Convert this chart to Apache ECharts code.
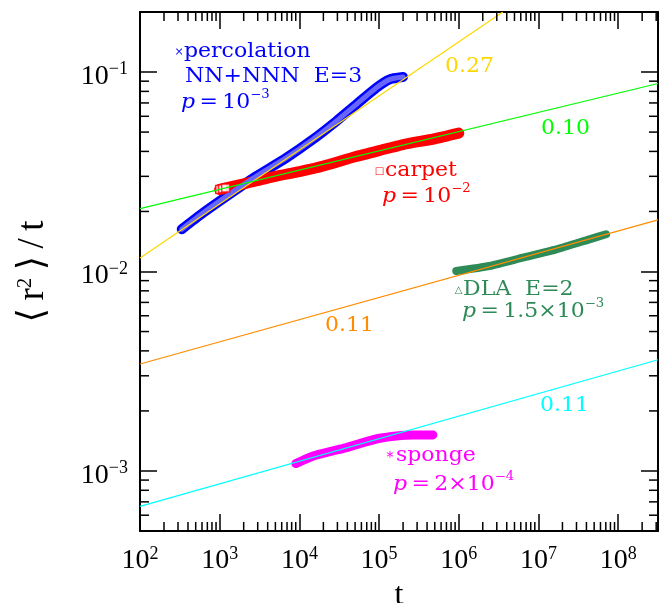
<!DOCTYPE html>
<html>
<head>
<meta charset="utf-8">
<script src="https://cdn.jsdelivr.net/npm/echarts@6/dist/echarts.min.js"></script>
<style>
html,body{margin:0;padding:0;background:#fff}
#main{width:667px;height:603px}
</style>
</head>
<body>
<div id="main"></div>
<script>
// axis ranges
var tMin = 100, tMax = 3.162e8;
var yMin = 5e-4, yMax = 0.2;

// percolation, NN+NNN E=3, p=1e-3
var percT = [334, 621, 1630, 2900, 6890, 14850, 29200, 52000, 92500, 136000, 199500];
var percY = [0.0163, 0.0197, 0.0258, 0.0301, 0.0372, 0.0460, 0.0568, 0.0689, 0.0834, 0.0919, 0.0944];

// carpet, p=1e-2
var carpT = [1000, 1500, 2500, 5000, 1e4, 2e4, 5e4, 1e5, 2e5, 5e5, 1e6];
var carpY = [0.0258, 0.0268, 0.0281, 0.0300, 0.0317, 0.0338, 0.0376, 0.0404, 0.0433, 0.0463, 0.0494];
var carpStartT = [1000, 1090, 1190];
var carpStartY = [0.0258, 0.0260, 0.0262];

// DLA E=2, p=1.5e-3
var dlaT = [9.3e5, 2.43e6, 6.35e6, 1.67e7, 4.36e7, 7.05e7];
var dlaY = [0.01006, 0.01066, 0.01173, 0.01291, 0.01450, 0.01537];

// sponge, p=2e-4
var spgT = [9020, 14860, 24050, 38900, 62800, 101800, 165000, 266000, 473000];
var spgY = [0.001089, 0.001189, 0.00125, 0.001309, 0.001387, 0.001459, 0.001498, 0.001516, 0.001516];

var fitGold = [[100, 0.0117], [3.57e6, 0.2]];
var fitGreen = [[100, 0.02065], [3.162e8, 0.0876]];
var fitOrange = [[100, 0.003436], [3.162e8, 0.01815]];
var fitCyan = [[100, 0.000664], [3.162e8, 0.00361]];

// minor tick multipliers
var minorMul = [2, 3, 4, 5, 6, 7, 8, 9];
var xDecades = [2, 3, 4, 5, 6, 7, 8];
var yDecades = [-4, -3, -2, -1];

function zip(a, b) {
  return a.map(function (v, i) { return [v, b[i]]; });
}

var xMinor = [], yMinor = [];
xDecades.forEach(function (d) {
  minorMul.forEach(function (m) {
    var v = m * Math.pow(10, d);
    if (v < tMax) xMinor.push([v, yMin]);
  });
});
yDecades.forEach(function (d) {
  minorMul.forEach(function (m) {
    var v = m * Math.pow(10, d);
    if (v >= yMin && v < yMax * 0.999) yMinor.push([tMin, v]);
  });
});

var SERIF = '"Liberation Serif", "DejaVu Serif", serif';
var TXT = '"DejaVu Serif", serif';

function powLabel(v) {
  var e = Math.round(Math.log10(v));
  if (Math.abs(Math.log10(v) - e) > 1e-6) return '';
  return '{b|10}{s|' + String(e).replace('-', '\u2212') + '}';
}

var tickRich = {
  b: {fontSize: 28, fontFamily: SERIF, color: '#000', lineHeight: 30, verticalAlign: 'bottom'},
  s: {fontSize: 18, fontFamily: SERIF, color: '#000', lineHeight: 20, verticalAlign: 'top'}
};

function axisBase(pos, isX, showLabel) {
  return {
    type: 'log',
    logBase: 10,
    position: pos,
    min: isX ? tMin : yMin,
    max: isX ? tMax : yMax,
    axisLine: {show: true, lineStyle: {color: '#000', width: 2}},
    axisTick: {show: true, inside: true, length: 17, lineStyle: {color: '#000', width: 1.5}},
    minorTick: {show: false},
    splitLine: {show: false},
    axisLabel: {
      show: showLabel,
      margin: isX ? 14 : 12,
      formatter: powLabel,
      rich: tickRich,
      padding: isX ? 0 : [7, 0, 0, 0],
      showMinLabel: true,
      showMaxLabel: true
    }
  };
}

var xBottom = axisBase('bottom', true, true);
xBottom.name = 't';
xBottom.nameLocation = 'middle';
xBottom.nameGap = 40;
xBottom.nameTextStyle = {fontSize: 32, fontFamily: SERIF, color: '#000'};
var xTop = axisBase('top', true, false);

var yLeft = axisBase('left', false, true);
yLeft.name = '\u27e8\u2009r{s|2}\u2009\u27e9\u2009/\u2009t';
yLeft.nameLocation = 'middle';
yLeft.nameGap = 88;
yLeft.nameRotate = 90;
yLeft.nameTextStyle = {
  fontSize: 37, fontFamily: SERIF, color: '#000', padding: [0, 0, 0, 0],
  rich: {s: {fontSize: 21, fontFamily: SERIF, color: '#000', verticalAlign: 'top', lineHeight: 24}}
};
var yRight = axisBase('right', false, false);

function band(name, data, color, width, z) {
  return {
    name: name, type: 'line', data: data, xAxisIndex: 0, yAxisIndex: 0,
    showSymbol: false, symbol: 'none', smooth: 0.2, z: z,
    lineStyle: {color: color, width: width, cap: 'round', join: 'round'}
  };
}
function fit(data, color) {
  return {
    type: 'line', data: data, xAxisIndex: 0, yAxisIndex: 0, symbol: 'none',
    clip: true, z: 10, lineStyle: {color: color, width: 1.2}
  };
}

function tickSeries(data, isX) {
  return {
    type: 'custom', xAxisIndex: 0, yAxisIndex: 0, silent: true, z: 20,
    data: data,
    renderItem: function (params, api) {
      var cs = params.coordSys;
      var p = api.coord([api.value(0), api.value(1)]);
      var st = {stroke: '#000', lineWidth: 1.5};
      if (isX) {
        var b = cs.y + cs.height, t = cs.y;
        return {type: 'group', children: [
          {type: 'line', shape: {x1: p[0], y1: b, x2: p[0], y2: b - 9}, style: st},
          {type: 'line', shape: {x1: p[0], y1: t, x2: p[0], y2: t + 9}, style: st}
        ]};
      }
      var l = cs.x, r = cs.x + cs.width;
      return {type: 'group', children: [
        {type: 'line', shape: {x1: l, y1: p[1], x2: l + 9, y2: p[1]}, style: st},
        {type: 'line', shape: {x1: r, y1: p[1], x2: r - 9, y2: p[1]}, style: st}
      ]};
    }
  };
}

// annotation text helpers
function note(x, y, color, text) {
  return {
    type: 'text', x: x, y: y, scaleX: 1.1, z: 30,
    style: {
      text: text, fill: color, font: '20px ' + TXT,
      textAlign: 'left', verticalAlign: 'middle',
      rich: {
        n: {fontSize: 20, fontFamily: TXT, fill: color, lineHeight: 24, verticalAlign: 'bottom'},
        i: {fontSize: 20, fontFamily: TXT, fontStyle: 'italic', fill: color, lineHeight: 24, verticalAlign: 'bottom'},
        s: {fontSize: 12, fontFamily: TXT, fill: color, lineHeight: 15, verticalAlign: 'top'}
      }
    }
  };
}
function mark(x, y, color, ch, size) {
  return {
    type: 'text', x: x, y: y, z: 30,
    style: {text: ch, fill: color, font: size + 'px ' + TXT, textAlign: 'center', verticalAlign: 'middle'}
  };
}

var chart = echarts.init(document.getElementById('main'), null, {renderer: 'canvas'});
chart.setOption({
  animation: false,
  backgroundColor: '#fff',
  grid: {left: 140, top: 12, right: 9, bottom: 72, containLabel: false, outerBoundsMode: 'none'},
  xAxis: [xBottom, xTop],
  yAxis: [yLeft, yRight],
  series: [
    band('percolation', zip(percT, percY), '#0000ff', 10, 2),
    band('percolation-in', zip(percT, percY), '#6767ff', 5, 3),
    band('carpet', zip(carpT, carpY), '#ff0000', 11, 2),
    {
      type: 'scatter', data: zip(carpStartT, carpStartY), symbol: 'rect', symbolSize: 8, z: 3,
      itemStyle: {color: '#fff', borderColor: '#ff0000', borderWidth: 1.5}
    },
    band('DLA', zip(dlaT, dlaY), '#2e8b57', 8, 2),
    band('sponge', zip(spgT, spgY), '#ff00ff', 9, 2),
    fit(fitGold, '#ffd700'),
    fit(fitGreen, '#00ff00'),
    fit(fitOrange, '#ff8c00'),
    fit(fitCyan, '#00ffff'),
    tickSeries(xMinor, true),
    tickSeries(yMinor, false)
  ],
  graphic: [
    mark(179, 52, '#0000ff', '\u00d7', 11),
    note(184, 50, '#0000ff', '{n|percolation}'),
    note(185, 75, '#0000ff', '{n|NN+NNN  E=3}'),
    note(181, 101, '#0000ff', '{i|p}{n|\u2009=\u200910}{s|\u22123}'),
    mark(379.5, 171, '#ff0000', '\u25a1', 10),
    note(385, 169, '#ff0000', '{n|carpet}'),
    note(382, 195, '#ff0000', '{i|p}{n|\u2009=\u200910}{s|\u22122}'),
    mark(458.5, 290, '#2e8b57', '\u25b3', 10),
    note(463, 288, '#2e8b57', '{n|DLA  E=2}'),
    note(462, 310, '#2e8b57', '{i|p}{n|\u2009=\u20091.5\u00d710}{s|\u22123}'),
    mark(390, 458, '#ff00ff', '*', 14),
    note(396, 454, '#ff00ff', '{n|sponge}'),
    note(393, 483, '#ff00ff', '{i|p}{n|\u2009=\u20092\u00d710}{s|\u22124}'),
    note(445, 65, '#ffd700', '{n|0.27}'),
    note(541, 127, '#00ff00', '{n|0.10}'),
    note(325, 324, '#ff8c00', '{n|0.11}'),
    note(540, 404, '#00ffff', '{n|0.11}')
  ]
});
</script>
</body>
</html>
